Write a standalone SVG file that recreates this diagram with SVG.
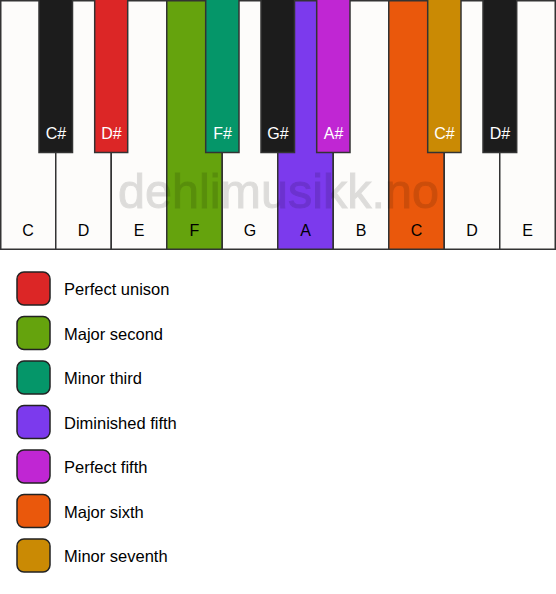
<svg xmlns="http://www.w3.org/2000/svg" width="556" height="594" viewBox="0 0 556 594">
<style>
.w{fill:#fdfcfa;stroke:#333;stroke-width:1.5}
.b{stroke:#333;stroke-width:1.5}
.sw{stroke:#222;stroke-width:1.5}
text{font-family:"Liberation Sans",Arial,sans-serif;font-size:16px}
.lg{font-size:16.5px}
.kl{text-anchor:middle;fill:#000}
.bl{text-anchor:middle;fill:#fff}
.wm{font-size:48.5px;fill:#000;stroke:#000;stroke-width:1;text-anchor:middle}
</style>
<rect width="556" height="594" fill="#fff"/>
<g id="white-keys">
<g id="key-C1"><rect class="w" x="0.75" y="0.75" width="55" height="248.5"/><text class="kl" x="28" y="236">C</text></g>
<g id="key-D1"><rect class="w" x="55.75" y="0.75" width="55.5" height="248.5"/><text class="kl" x="83.5" y="236">D</text></g>
<g id="key-E1"><rect class="w" x="111.25" y="0.75" width="55.5" height="248.5"/><text class="kl" x="139" y="236">E</text></g>
<g id="key-F"><rect class="w" style="fill:#65a30d" x="166.75" y="0.75" width="55.5" height="248.5"/><text class="kl" x="194.5" y="236">F</text></g>
<g id="key-G"><rect class="w" x="222.25" y="0.75" width="55.5" height="248.5"/><text class="kl" x="250" y="236">G</text></g>
<g id="key-A"><rect class="w" style="fill:#7c3aed" x="277.75" y="0.75" width="55.5" height="248.5"/><text class="kl" x="305.5" y="236">A</text></g>
<g id="key-B"><rect class="w" x="333.25" y="0.75" width="55.5" height="248.5"/><text class="kl" x="361" y="236">B</text></g>
<g id="key-C2"><rect class="w" style="fill:#ea580c" x="388.75" y="0.75" width="55.5" height="248.5"/><text class="kl" x="416.5" y="236">C</text></g>
<g id="key-D2"><rect class="w" x="444.25" y="0.75" width="55.5" height="248.5"/><text class="kl" x="472" y="236">D</text></g>
<g id="key-E2"><rect class="w" x="499.75" y="0.75" width="55.5" height="248.5"/><text class="kl" x="527.5" y="236">E</text></g>
</g>
<g id="black-keys">
<g id="key-Cs1"><rect class="b" fill="#1c1c1c" x="39" y="-1" width="33.5" height="153.5"/><text class="bl" x="56" y="139">C#</text></g>
<g id="key-Ds1"><rect class="b" fill="#dc2626" x="94.7" y="-1" width="33" height="153.5"/><text class="bl" x="111.5" y="139">D#</text></g>
<g id="key-Fs"><rect class="b" fill="#059669" x="205.7" y="-1" width="33.3" height="153.5"/><text class="bl" x="222.5" y="139">F#</text></g>
<g id="key-Gs"><rect class="b" fill="#1c1c1c" x="261" y="-1" width="33.5" height="153.5"/><text class="bl" x="278" y="139">G#</text></g>
<g id="key-As"><rect class="b" fill="#c026d3" x="316.7" y="-1" width="33.3" height="153.5"/><text class="bl" x="333.5" y="139">A#</text></g>
<g id="key-Cs2"><rect class="b" fill="#ca8a04" x="427.7" y="-1" width="33.3" height="153.5"/><text class="bl" x="444.5" y="139">C#</text></g>
<g id="key-Ds2"><rect class="b" fill="#1c1c1c" x="483" y="-1" width="33.7" height="153.5"/><text class="bl" x="500" y="139">D#</text></g>
</g>
<g id="watermark" opacity="0.12"><text class="wm" x="278.5" y="208">dehlimusikk.no</text></g>
<g id="legend">
<g id="leg-1"><rect class="sw" fill="#dc2626" x="17" y="272" width="33" height="33" rx="7"/><text class="lg" x="64" y="295">Perfect unison</text></g>
<g id="leg-2"><rect class="sw" fill="#65a30d" x="17" y="316.5" width="33" height="33" rx="7"/><text class="lg" x="64" y="339.5">Major second</text></g>
<g id="leg-3"><rect class="sw" fill="#059669" x="17" y="361" width="33" height="33" rx="7"/><text class="lg" x="64" y="384">Minor third</text></g>
<g id="leg-4"><rect class="sw" fill="#7c3aed" x="17" y="405.5" width="33" height="33" rx="7"/><text class="lg" x="64" y="428.5">Diminished fifth</text></g>
<g id="leg-5"><rect class="sw" fill="#c026d3" x="17" y="450" width="33" height="33" rx="7"/><text class="lg" x="64" y="473">Perfect fifth</text></g>
<g id="leg-6"><rect class="sw" fill="#ea580c" x="17" y="494.5" width="33" height="33" rx="7"/><text class="lg" x="64" y="517.5">Major sixth</text></g>
<g id="leg-7"><rect class="sw" fill="#ca8a04" x="17" y="539" width="33" height="33" rx="7"/><text class="lg" x="64" y="562">Minor seventh</text></g>
</g>
</svg>
